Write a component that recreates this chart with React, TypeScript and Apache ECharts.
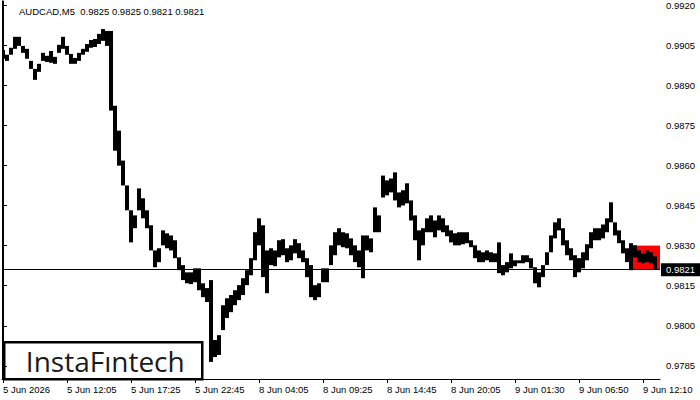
import React, { useEffect, useRef } from "react";
import * as echarts from "echarts";

// ---- data ----
const SYMBOL_TITLE = "AUDCAD,M5  0.9825 0.9825 0.9821 0.9821";
const LAST_PRICE = 0.9821;
const PATTERN_TOP = 0.983;
const PATTERN_START_BAR = 627;
const STEP = 4; // each sample covers 4 M5 bars

// sampled highs / lows (every 4 M5 bars)
const highs = [
  0.99032, 0.99014, 0.9904, 0.99081, 0.99081, 0.99047, 0.99036, 0.98991, 0.98961, 0.9898,
  0.99021, 0.9901, 0.99028, 0.99006, 0.99051, 0.99081, 0.99047, 0.99017, 0.99002, 0.99021,
  0.99036, 0.99054, 0.99069, 0.99073, 0.99092, 0.9911, 0.99103, 0.99103, 0.98823, 0.9873,
  0.98618, 0.98525, 0.98432, 0.98413, 0.98514, 0.98477, 0.98432, 0.98376, 0.98282, 0.9829,
  0.98357, 0.98346, 0.98338, 0.9832, 0.98256, 0.98227, 0.982, 0.982, 0.98215, 0.98215,
  0.98159, 0.98141, 0.98171, 0.97947, 0.97965, 0.98077, 0.98103, 0.98115, 0.98133, 0.98152,
  0.98178, 0.98208, 0.98253, 0.9835, 0.98402, 0.98376, 0.98282, 0.9829, 0.98282, 0.9832,
  0.98324, 0.9829, 0.98301, 0.98324, 0.98309, 0.98282, 0.98253, 0.98227, 0.98152, 0.98159,
  0.98215, 0.98215, 0.98301, 0.9835, 0.98365, 0.9835, 0.98346, 0.98327, 0.98301, 0.98282,
  0.98338, 0.98338, 0.98327, 0.98443, 0.98413, 0.98562, 0.98544, 0.98551, 0.98574, 0.98499,
  0.98507, 0.98533, 0.98469, 0.98413, 0.98357, 0.98365, 0.98402, 0.98413, 0.98394, 0.98413,
  0.98402, 0.98376, 0.98357, 0.98346, 0.9835, 0.9835, 0.9835, 0.9832, 0.98301, 0.98282,
  0.98275, 0.98282, 0.98275, 0.98271, 0.98312, 0.98227, 0.98238, 0.98271, 0.98245, 0.98245,
  0.98264, 0.98264, 0.98253, 0.98219, 0.982, 0.98227, 0.98275, 0.98338, 0.98387, 0.98402,
  0.98365, 0.9832, 0.9829, 0.98264, 0.98253, 0.98275, 0.98305, 0.9835, 0.98365, 0.98365,
  0.98379, 0.98402, 0.98462, 0.98387, 0.98357, 0.9832, 0.9829, 0.98309, 0.98301, 0.98282,
  0.98271, 0.98282, 0.98275, 0.9826,
];
const lows = [
  0.98999, 0.98991, 0.99014, 0.99036, 0.99047, 0.99021, 0.98999, 0.98961, 0.9892, 0.9895,
  0.98991, 0.98987, 0.98984, 0.9898, 0.99021, 0.99036, 0.99014, 0.9898, 0.9898, 0.98991,
  0.99014, 0.99025, 0.9904, 0.99043, 0.99054, 0.99066, 0.99047, 0.98805, 0.98655, 0.98599,
  0.98525, 0.98432, 0.98312, 0.98365, 0.98432, 0.98402, 0.98365, 0.98282, 0.98219, 0.98238,
  0.98301, 0.9829, 0.98282, 0.98253, 0.98208, 0.98171, 0.98159, 0.98156, 0.98163, 0.98133,
  0.98107, 0.98089, 0.97865, 0.97883, 0.97891, 0.97984, 0.98029, 0.98051, 0.98077, 0.98096,
  0.98115, 0.98152, 0.98189, 0.98245, 0.98301, 0.98182, 0.98122, 0.98227, 0.98223, 0.98256,
  0.98264, 0.98238, 0.98245, 0.98271, 0.98253, 0.98238, 0.98182, 0.98107, 0.98096, 0.98107,
  0.98163, 0.98163, 0.98227, 0.98264, 0.98301, 0.98294, 0.9829, 0.98264, 0.98238, 0.98219,
  0.98178, 0.98282, 0.98275, 0.9835, 0.9835, 0.9848, 0.98488, 0.98499, 0.98469, 0.98443,
  0.9845, 0.98458, 0.98394, 0.9832, 0.98245, 0.98301, 0.9835, 0.9835, 0.98331, 0.98357,
  0.9835, 0.98335, 0.98312, 0.98301, 0.98301, 0.98305, 0.98309, 0.98294, 0.98253, 0.98238,
  0.98238, 0.98245, 0.98238, 0.98238, 0.98197, 0.98189, 0.982, 0.98215, 0.98223, 0.98234,
  0.98234, 0.98238, 0.98215, 0.98159, 0.98144, 0.98182, 0.98227, 0.98275, 0.98327, 0.98357,
  0.98301, 0.98264, 0.98245, 0.98182, 0.982, 0.98215, 0.98245, 0.9829, 0.9832, 0.9832,
  0.98327, 0.9835, 0.98387, 0.98338, 0.98309, 0.98271, 0.98238, 0.98208, 0.98256, 0.98238,
  0.98234, 0.98238, 0.98234, 0.9821,
];

const timeTickBars = [0, 64, 128, 192, 256, 320, 384, 448, 512, 576, 640];
const timeTickLabels = [
  "5 Jun 2026",
  "5 Jun 12:05",
  "5 Jun 17:25",
  "5 Jun 22:45",
  "8 Jun 04:05",
  "8 Jun 09:25",
  "8 Jun 14:45",
  "8 Jun 20:05",
  "9 Jun 01:30",
  "9 Jun 06:50",
  "9 Jun 12:10",
];
const priceTicks = [0.9785, 0.98, 0.9815, 0.983, 0.9845, 0.986, 0.9875, 0.989, 0.9905, 0.992];
const PRICE_MIN = 0.97801;
const PRICE_MAX = 0.99215;
const BAR_MIN = -1;
const BAR_MAX = 657;

const AXIS_FONT = "'Liberation Sans', Arial, sans-serif";

export default function App() {
  const ref = useRef<HTMLDivElement>(null);
  useEffect(() => {
    if (!ref.current) return;
    const chart = echarts.init(ref.current, null, { renderer: "svg" });
    const data = highs.map((h, i) => [i * STEP, lows[i], h]);
    const option: any = {
      animation: false,
      backgroundColor: "#ffffff",
      title: {
        text: SYMBOL_TITLE,
        left: 19,
        top: 6,
        padding: 0,
        textStyle: { fontSize: 9.5, fontWeight: "normal", color: "#000", fontFamily: AXIS_FONT },
      },
      grid: { left: 2, right: 40, top: 0, bottom: 21, containLabel: false },
      xAxis: {
        type: "value",
        min: BAR_MIN,
        max: BAR_MAX,
        splitLine: { show: false },
        axisLine: { show: true, lineStyle: { color: "#000", width: 1 } },
        axisTick: { show: true, length: 4, customValues: timeTickBars, lineStyle: { color: "#000" } },
        axisLabel: {
          customValues: timeTickBars,
          align: "left",
          margin: 5,
          color: "#000",
          fontSize: 9.5,
          fontFamily: AXIS_FONT,
          formatter: (v: number) => {
            const k = timeTickBars.indexOf(Math.round(v));
            return k >= 0 ? timeTickLabels[k] : "";
          },
        },
      },
      yAxis: [
        {
          type: "value",
          position: "right",
          min: PRICE_MIN,
          max: PRICE_MAX,
          splitLine: { show: false },
          axisLine: { show: true, lineStyle: { color: "#000", width: 1 } },
          axisTick: { show: true, length: 4, customValues: priceTicks, lineStyle: { color: "#000" } },
          axisLabel: {
            customValues: priceTicks,
            margin: 6,
            color: "#000",
            fontSize: 9.5,
            fontFamily: AXIS_FONT,
            formatter: (v: number) => v.toFixed(4),
          },
        },
        {
          type: "value",
          position: "left",
          min: PRICE_MIN,
          max: PRICE_MAX,
          splitLine: { show: false },
          axisLine: { show: true, lineStyle: { color: "#000", width: 1 } },
          axisTick: { show: false },
          axisLabel: { show: false },
        },
      ],
      series: [
        {
          type: "line",
          data: [],
          z: 1,
          silent: true,
          markArea: {
            silent: true,
            itemStyle: { color: "#ff0000", borderWidth: 0 },
            data: [[{ xAxis: PATTERN_START_BAR, yAxis: PATTERN_TOP }, { xAxis: BAR_MAX, yAxis: LAST_PRICE }]],
          },
        },
        {
          type: "custom",
          z: 3,
          clip: true,
          data,
          encode: { x: 0, y: [1, 2] },
          renderItem: (params: any, api: any) => {
            const x = api.value(0);
            const lo = api.value(1);
            const hi = api.value(2);
            const p1 = api.coord([x - STEP / 2, hi]);
            const p2 = api.coord([x + STEP / 2, lo]);
            return {
              type: "rect",
              shape: { x: p1[0], y: p1[1], width: p2[0] - p1[0], height: Math.max(1.5, p2[1] - p1[1]) },
              style: { fill: "#000" },
            };
          },
          markLine: {
            silent: true,
            precision: 4,
            symbol: ["none", "none"],
            lineStyle: { color: "#000", width: 1, type: "solid" },
            label: {
              show: true,
              position: "end",
              distance: 1,
              formatter: () => LAST_PRICE.toFixed(4),
              color: "#fff",
              backgroundColor: "#000",
              padding: [2, 5, 1, 5],
              fontSize: 9.5,
              fontFamily: AXIS_FONT,
            },
            data: [{ yAxis: LAST_PRICE }],
          },
        },
      ],
      graphic: [
        {
          type: "group",
          left: 3,
          top: 341,
          z: 10,
          children: [
            {
              type: "rect",
              shape: { x: 0, y: 0, width: 198, height: 37 },
              style: { fill: "#fff", stroke: "#000", lineWidth: 2.5 },
            },
            {
              type: "text",
              x: 101,
              y: 19,
              style: {
                text: "InstaF\u0131ntech",
                fill: "#1a1a1a",
                font: "28px 'Open Sans', 'Noto Sans', sans-serif",
                textAlign: "center",
                textVerticalAlign: "middle",
              },
            },
          ],
        },
      ],
    };
    chart.setOption(option);
    return () => chart.dispose();
  }, []);
  return (
    <div
      ref={ref}
      style={{ position: "absolute", left: 0, top: 0, width: 700, height: 400, background: "#fff" }}
    />
  );
}
